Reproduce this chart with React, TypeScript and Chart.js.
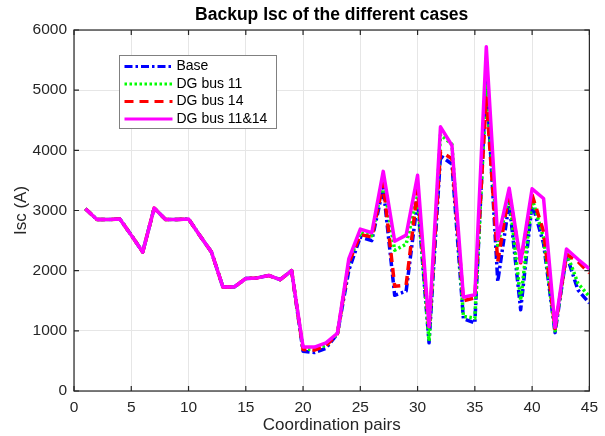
import React, { useEffect, useRef } from "react";
import { Chart, registerables } from "chart.js";

Chart.register(...registerables);

const pairs = [
  1, 2, 3, 4, 5, 6, 7, 8, 9, 10, 11, 12, 13, 14, 15, 16, 17, 18, 19, 20, 21, 22, 23,
  24, 25, 26, 27, 28, 29, 30, 31, 32, 33, 34, 35, 36, 37, 38, 39, 40, 41, 42, 43, 44, 45,
];

const baseIsc = [
  3030, 2850, 2850, 2860, 2590, 2310, 3040, 2850, 2850, 2860, 2580, 2310, 1730, 1730, 1870,
  1880, 1920, 1850, 2000, 660, 640, 710, 950, 2010, 2560, 2500, 3380, 1590, 1660, 3170, 800,
  3910, 3770, 1200, 1130, 5210, 1820, 3130, 1350, 3120, 2450, 970, 2260, 1680, 1460,
];

const dg11Isc = [
  3030, 2850, 2850, 2860, 2590, 2310, 3040, 2850, 2850, 2860, 2580, 2310, 1730, 1730, 1870,
  1880, 1920, 1850, 2000, 700, 690, 760, 950, 2140, 2630, 2580, 3480, 2340, 2440, 3250, 830,
  4260, 4100, 1240, 1210, 5100, 2420, 3250, 1510, 3200, 2550, 1000, 2300, 1790, 1570,
];

const dg14Isc = [
  3030, 2850, 2850, 2860, 2590, 2310, 3040, 2850, 2850, 2860, 2580, 2310, 1730, 1730, 1870,
  1880, 1920, 1850, 2000, 690, 680, 750, 950, 2130, 2600, 2560, 3450, 1740, 1760, 3350, 1040,
  3980, 3860, 1500, 1550, 4870, 2150, 3300, 2130, 3260, 2650, 1040, 2270, 2150, 1960,
];

const dg1114Isc = [
  3030, 2850, 2850, 2860, 2590, 2310, 3040, 2850, 2850, 2860, 2580, 2310, 1730, 1730, 1870,
  1880, 1920, 1850, 2000, 730, 730, 800, 960, 2200, 2690, 2630, 3650, 2490, 2590, 3585, 1070,
  4390, 4080, 1560, 1600, 5720, 2520, 3370, 2150, 3360, 3200, 1060, 2360, 2190, 2030,
];

const seriesLabels = ["Base", "DG bus 11", "DG bus 14", "DG bus 11&14"];
const seriesColors = ["#0000ff", "#00ff00", "#ff0000", "#ff00ff"];
const seriesDashes = [[8, 3, 2.5, 3], [2.5, 2.5], [9, 6], []];

const FONT = '"Liberation Sans", Arial, Helvetica, sans-serif';

const boxPlugin = {
  id: "matlabBox",
  beforeDatasetsDraw(chart: any) {
    const { ctx, chartArea, scales } = chart;
    const { left, right, top, bottom } = chartArea;
    const x = scales.x;
    const y = scales.y;
    ctx.save();
    ctx.strokeStyle = "#262626";
    ctx.lineWidth = 1.2;
    ctx.strokeRect(left, top, right - left, bottom - top);
    const tl = 5;
    ctx.beginPath();
    x.ticks.forEach((t: any) => {
      const px = x.getPixelForValue(t.value);
      ctx.moveTo(px, bottom);
      ctx.lineTo(px, bottom - tl);
      ctx.moveTo(px, top);
      ctx.lineTo(px, top + tl);
    });
    y.ticks.forEach((t: any) => {
      const py = y.getPixelForValue(t.value);
      ctx.moveTo(left, py);
      ctx.lineTo(left + tl, py);
      ctx.moveTo(right, py);
      ctx.lineTo(right - tl, py);
    });
    ctx.stroke();
    ctx.restore();
  },
};

const legendPlugin = {
  id: "matlabLegend",
  afterDraw(chart: any) {
    const { ctx, chartArea } = chart;
    const left = chartArea.left + 45.5;
    const top = chartArea.top + 25.5;
    const w = 157;
    const h = 73;
    ctx.save();
    ctx.fillStyle = "#ffffff";
    ctx.fillRect(left, top, w, h);
    ctx.strokeStyle = "#808080";
    ctx.lineWidth = 1;
    ctx.strokeRect(left, top, w, h);
    ctx.font = `14px ${FONT}`;
    ctx.textBaseline = "middle";
    ctx.textAlign = "left";
    chart.data.datasets.forEach((ds: any, i: number) => {
      const yy = top + 11 + i * 17.5;
      ctx.beginPath();
      ctx.setLineDash(ds.borderDash || []);
      ctx.strokeStyle = ds.borderColor;
      ctx.lineWidth = 3;
      ctx.lineCap = "butt";
      ctx.moveTo(left + 5, yy);
      ctx.lineTo(left + 53, yy);
      ctx.stroke();
      ctx.setLineDash([]);
      ctx.fillStyle = "#000000";
      ctx.fillText(ds.label, left + 57, yy);
    });
    ctx.restore();
  },
};

export default function App() {
  const canvasRef = useRef<HTMLCanvasElement | null>(null);

  useEffect(() => {
    const canvas = canvasRef.current;
    if (!canvas) return;
    const allSeries = [baseIsc, dg11Isc, dg14Isc, dg1114Isc];
    const datasets = allSeries.map((vals, si) => ({
      label: seriesLabels[si],
      data: pairs.map((p, i) => ({ x: p, y: vals[i] })),
      borderColor: seriesColors[si],
      backgroundColor: seriesColors[si],
      borderDash: seriesDashes[si],
      borderWidth: 3.5,
      borderCapStyle: "butt",
      borderJoinStyle: "round",
      pointRadius: 0,
      tension: 0,
      fill: false,
      order: 4 - si,
    }));

    const tickFont = { family: FONT, size: 15.5 };
    const plain = (v: any) => String(v);
    const chart = new Chart(canvas, {
      type: "line",
      data: { datasets } as any,
      options: {
        responsive: false,
        animation: false,
        devicePixelRatio: 1,
        layout: { padding: { left: 0, right: 9, top: 0, bottom: 0 } },
        plugins: {
          legend: { display: false },
          tooltip: { enabled: false },
          title: {
            display: true,
            text: "Backup Isc of the different cases",
            fullSize: false,
            color: "#000000",
            font: { family: FONT, size: 17.5, weight: "bold" },
            padding: { top: 5, bottom: 4 },
          },
        },
        scales: {
          x: {
            type: "linear",
            min: 0,
            max: 45,
            ticks: {
              stepSize: 5,
              font: tickFont,
              color: "#262626",
              padding: 7,
              maxRotation: 0,
              autoSkip: false,
              callback: plain,
            },
            grid: { color: "#e6e6e6", drawTicks: false, lineWidth: 1 },
            border: { display: false },
            title: {
              display: true,
              text: "Coordination pairs",
              color: "#262626",
              font: { family: FONT, size: 17 },
              padding: { top: 0, bottom: 0 },
            },
            afterFit: (s: any) => {
              s.height = 45;
            },
          },
          y: {
            type: "linear",
            min: 0,
            max: 6000,
            ticks: {
              stepSize: 1000,
              font: tickFont,
              color: "#262626",
              padding: 7,
              callback: plain,
            },
            grid: { color: "#e6e6e6", drawTicks: false, lineWidth: 1 },
            border: { display: false },
            title: {
              display: true,
              text: "Isc (A)",
              color: "#262626",
              font: { family: FONT, size: 17 },
              padding: { top: 11, bottom: 0 },
            },
            afterFit: (s: any) => {
              s.width = 74;
            },
          },
        },
      } as any,
      plugins: [boxPlugin, legendPlugin],
    });
    return () => chart.destroy();
  }, []);

  return (
    <div style={{ position: "fixed", left: 0, top: 0, width: 605, height: 436, background: "#fff" }}>
      <canvas ref={canvasRef} width={605} height={436} style={{ display: "block" }} />
    </div>
  );
}
